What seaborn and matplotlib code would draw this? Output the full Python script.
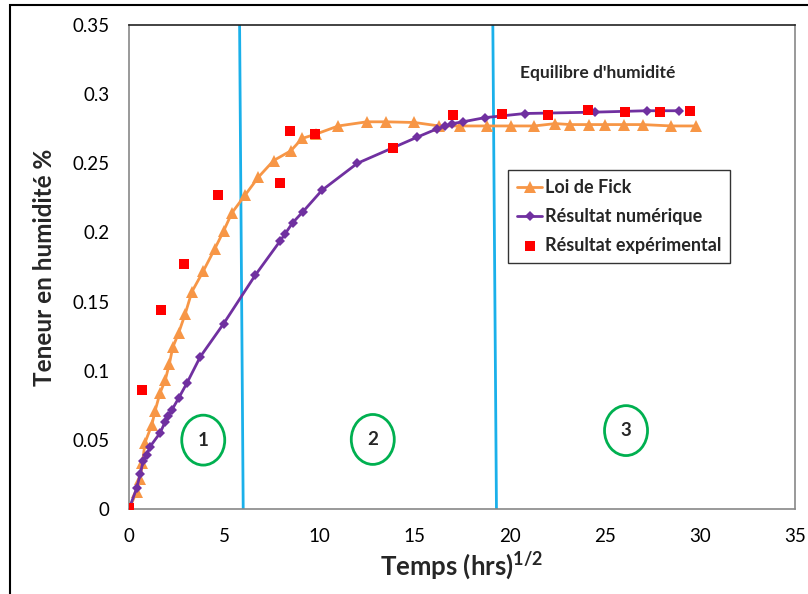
import matplotlib
matplotlib.use("Agg")
import matplotlib.pyplot as plt
import seaborn as sns
import pandas as pd
from matplotlib.patches import Ellipse, Rectangle

# data
fick_x = [0, 0.4, 0.58, 0.7, 0.84, 1.2, 1.37, 1.63, 1.9, 2.12, 2.3, 2.6, 2.95, 3.3, 3.9,
          4.5, 4.97, 5.4, 6.1, 6.8, 7.6, 8.5, 9.1, 9.8, 11.0, 12.5, 13.5, 15.0, 16.3, 17.4,
          18.8, 20.05, 21.3, 22.4, 23.2, 24.2, 25.0, 26.0, 27.0, 28.5, 29.8]
fick_y = [0, 0.0125, 0.022, 0.033, 0.048, 0.061, 0.071, 0.084, 0.093, 0.105, 0.117, 0.127,
          0.141, 0.157, 0.172, 0.188, 0.201, 0.214, 0.227, 0.240, 0.252, 0.259, 0.268, 0.271,
          0.277, 0.280, 0.280, 0.2795, 0.277, 0.277, 0.277, 0.277, 0.277, 0.2787, 0.278,
          0.278, 0.278, 0.278, 0.278, 0.277, 0.277]

num_x = [0, 0.4, 0.58, 0.75, 0.93, 1.1, 1.63, 1.9, 2.07, 2.25, 2.6, 3.04, 3.74, 4.97, 6.63,
         7.95, 8.2, 8.6, 9.14, 10.14, 12.0, 15.16, 16.2, 16.6, 16.96, 17.55, 18.7, 20.8,
         24.5, 27.2, 28.9]
num_y = [0, 0.015, 0.025, 0.035, 0.039, 0.045, 0.055, 0.063, 0.067, 0.0716, 0.080, 0.091,
         0.110, 0.134, 0.169, 0.194, 0.199, 0.207, 0.215, 0.2305, 0.250, 0.269, 0.275,
         0.2767, 0.2786, 0.280, 0.283, 0.286, 0.287, 0.288, 0.288]

exp_x = [0, 0.67, 1.68, 2.9, 4.65, 7.95, 8.44, 9.79, 13.87, 17.0, 19.6, 22.0, 24.1, 26.07,
         27.9, 29.5]
exp_y = [0.001, 0.086, 0.144, 0.177, 0.227, 0.236, 0.273, 0.2715, 0.261, 0.2847, 0.2854,
         0.2847, 0.2883, 0.287, 0.287, 0.288]

zone_labels = ["1", "2", "3"]
zone_x = [3.9, 12.81, 26.12]
zone_y = [0.0498, 0.0503, 0.0567]
# boundaries (slightly slanted in the original): (x at top, x at bottom)
bound_top = [5.81, 19.12]
bound_bottom = [6.0, 19.31]

x_ticks = [0, 5, 10, 15, 20, 25, 30, 35]
y_ticks = [0, 0.05, 0.1, 0.15, 0.2, 0.25, 0.3, 0.35]
y_tick_labels = ["0", "0.05", "0.1", "0.15", "0.2", "0.25", "0.3", "0.35"]

sns.set_style("white")
plt.rcParams['font.family'] = ['Lato', 'DejaVu Sans']
plt.rcParams['mathtext.fontset'] = 'custom'
plt.rcParams['mathtext.rm'] = 'Lato:bold'
plt.rcParams['mathtext.it'] = 'Lato:bold'

fick = pd.DataFrame({'x': fick_x, 'y': fick_y})
num = pd.DataFrame({'x': num_x, 'y': num_y})
exp = pd.DataFrame({'x': exp_x, 'y': exp_y})

fig = plt.figure(figsize=(8.08, 5.94), dpi=100)
ax = fig.add_axes([0.1597, 0.1431, 0.8242, 0.8148])

sns.lineplot(data=fick, x='x', y='y', sort=False, ax=ax, color='#f79646', lw=2,
             marker='^', markersize=8, markeredgewidth=0, label='Loi de Fick')
sns.lineplot(data=num, x='x', y='y', sort=False, ax=ax, color='#7030a0', lw=2,
             marker='D', markersize=5, markeredgewidth=0, label='Résultat numérique')
sns.scatterplot(data=exp, x='x', y='y', ax=ax, color='#ff0000', marker='s', s=60,
                linewidth=0, label='Résultat expérimental', zorder=5)

for xt, xb in zip(bound_top, bound_bottom):
    ax.plot([xt, xb], [0.35, 0], color='#1ab0ea', lw=2, zorder=1)

for lab, cx, cy in zip(zone_labels, zone_x, zone_y):
    ax.add_patch(Ellipse((cx, cy), 2.26, 0.0361, fill=False, edgecolor='#00b050', lw=2))
    ax.text(cx, cy, lab, ha='center', va='center', fontsize=13.5, fontweight='bold')

ax.text(24.65, 0.315, "Equilibre d'humidité", ha='center', va='center',
        fontsize=12.5, fontweight='bold')

ax.set_xlim(0, 35)
ax.set_ylim(0, 0.35)
ax.set_xticks(x_ticks)
ax.set_yticks(y_ticks)
ax.set_yticklabels(y_tick_labels)
ax.tick_params(axis='both', length=0, pad=14, labelsize=13.5, labelcolor='black')
ax.set_xlabel(r'Temps (hrs)$^{1/2}$', fontsize=18.5, fontweight='bold', labelpad=4)
ax.set_ylabel('Teneur en humidité %', fontsize=17.5, fontweight='bold', labelpad=12)

for side in ['left', 'bottom', 'right']:
    ax.spines[side].set_color('#888888')
ax.spines['top'].set_color('#222222')
for sp in ax.spines.values():
    sp.set_linewidth(1.2)

leg = ax.legend(loc='upper left', bbox_to_anchor=(0.569, 0.700), borderaxespad=0,
                frameon=True, fancybox=False, edgecolor='black', handlelength=1.4,
                handletextpad=0.15, borderpad=0.5, labelspacing=0.65,
                prop={'weight': 'bold', 'size': 13})
leg.get_frame().set_linewidth(1.0)

# outer border of the original image
fig.patches.append(Rectangle((10 / 808, -0.1), 1.2, 0.1 + (594 - 5) / 594,
                             transform=fig.transFigure, fill=False,
                             edgecolor='black', lw=1.5))

fig.savefig('out.png', dpi=100)
